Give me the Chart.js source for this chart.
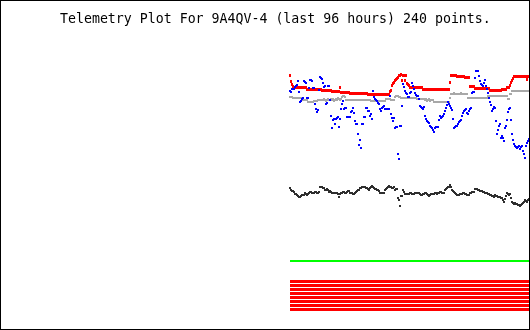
<!DOCTYPE html>
<html lang="en">
<head>
  <meta charset="UTF-8">
  <title>Telemetry Plot For 9A4QV-4</title>
  <script src="https://cdn.jsdelivr.net/npm/chart.js"></script>
  <style>
    body {
      margin: 0;
      background: #fff;
    }
    .plot {
      position: relative;
      width: 528px;
      height: 328px;
      border: 1px solid #000;
    }
    .plot canvas {
      display: block;
    }
    .title {
      position: absolute;
      left: 59px;
      top: 11px;
      font-family: 'DejaVu Sans Mono', 'Liberation Mono', monospace;
      font-size: 13.25px;
      line-height: 1;
      color: #000;
      white-space: pre;
    }
  </style>
</head>
<body>
  <div class="plot">
    <canvas id="telemetry" width="528" height="328"></canvas>
    <div class="title">Telemetry Plot For 9A4QV-4 (last 96 hours) 240 points.</div>
  </div>
  <script>
    // raw channel values, one per sample (240 samples, oldest first)
    const ch1 = [
      254,248,245,243,242,242,242,242,242,242,
      242,242,242,242,242,242,242,240,240,240,
      240,240,240,240,240,240,240,240,240,240,
      240,240,239,239,239,239,239,239,239,239,
      239,239,238,238,238,238,238,238,238,238,
      242,237,237,237,237,237,237,237,237,237,
      236,236,236,236,236,236,236,236,236,236,
      236,236,236,236,236,236,236,236,235,235,
      235,235,235,235,235,235,235,235,235,235,
      235,235,235,235,235,235,235,235,235,235,
      238,239,244,246,247,249,250,251,252,254,
      254,255,249,254,254,249,254,246,245,244,
      242,242,242,242,242,242,242,242,242,242,
      242,242,242,240,240,240,240,240,240,240,
      240,240,240,240,240,240,240,240,240,240,
      240,240,240,240,240,240,240,240,240,240,
      247,254,254,254,254,254,254,253,253,253,
      253,253,253,253,253,252,252,252,252,252,
      243,243,243,243,243,241,241,241,241,241,
      241,241,241,241,241,241,241,241,241,241,
      239,239,239,239,239,239,239,239,239,239,
      239,239,240,240,240,240,240,242,242,242,
      244,247,249,251,253,253,253,253,253,253,
      253,253,253,253,253,253,253,250,253,253
    ];
    const ch2 = [
      238,237,240,240,240,242,243,244,248,237,
      227,228,230,231,248,247,246,231,231,241,
      249,249,248,241,241,225,220,217,219,239,
      252,251,250,246,242,243,225,226,243,243,
      229,213,201,209,210,205,210,211,212,202,
      210,220,225,228,220,221,221,212,212,212,
      212,217,218,221,216,208,205,205,195,184,
      189,181,205,205,212,212,221,221,218,218,
      213,215,210,238,232,230,229,228,226,225,
      220,218,221,222,223,220,220,220,220,220,
      233,215,211,208,211,201,202,202,175,170,
      203,203,223,245,242,238,236,235,232,232,
      236,237,246,243,240,236,234,233,233,230,
      223,222,221,220,222,213,210,208,207,206,
      203,202,201,199,197,201,202,202,202,209,
      213,211,212,213,215,218,221,224,227,225,
      223,221,219,210,201,202,203,203,205,207,
      208,209,213,216,218,219,220,216,215,218,
      220,221,236,237,237,251,258,258,258,253,
      248,245,244,243,246,249,243,240,236,231,
      227,224,218,220,222,221,208,195,199,203,
      205,191,193,191,188,201,203,209,217,220,
      221,209,195,189,185,183,182,181,182,183,
      180,182,183,178,175,171,183,186,188,190
    ];
    const ch3 = [
      232,232,232,231,231,231,231,231,231,231,
      231,231,231,229,229,229,229,229,227,227,
      227,227,227,227,228,228,228,228,229,229,
      229,229,229,229,230,229,228,229,230,229,
      229,230,229,230,228,229,230,229,231,230,
      229,230,232,233,233,232,229,229,229,229,
      229,229,229,229,229,229,229,229,229,229,
      229,229,229,229,229,229,229,229,229,229,
      229,228,228,228,228,228,228,228,228,228,
      228,228,228,228,228,228,230,230,230,230,
      230,229,229,229,229,232,233,233,233,232,
      232,231,231,231,231,231,231,231,231,231,
      231,231,231,231,231,231,231,230,230,230,
      230,230,230,230,230,229,230,228,229,230,
      228,229,229,229,227,227,227,227,227,227,
      227,227,227,227,227,227,227,227,227,227,
      231,235,235,235,236,235,235,235,235,235,
      235,236,235,235,235,235,235,235,231,231,
      231,231,231,231,231,231,231,231,231,231,
      231,231,231,231,231,231,231,231,233,233,
      233,233,233,233,233,233,233,233,233,233,
      233,233,233,233,233,233,233,233,230,230,
      235,235,238,238,238,238,238,238,238,238,
      238,238,238,238,238,238,238,238,238,238
    ];
    const ch4 = [
      141,139,138,138,137,135,135,134,133,132,
      132,133,134,134,134,136,135,134,135,136,
      137,137,136,136,136,137,137,136,136,137,
      142,142,142,141,141,139,139,140,139,137,
      138,137,136,136,136,136,136,136,135,132,
      135,136,136,137,137,136,136,137,138,138,
      136,136,136,135,135,136,137,138,139,139,
      141,141,142,142,142,142,141,141,140,139,
      141,142,143,142,141,140,140,139,139,138,
      136,136,136,136,136,139,140,141,142,143,
      142,142,141,141,142,139,140,140,131,129,
      123,133,133,139,137,135,135,135,135,135,
      136,136,135,135,135,136,136,136,136,136,
      135,134,134,135,135,136,136,135,134,133,
      134,135,135,135,135,136,136,135,136,136,
      137,137,136,136,136,139,140,141,142,142,
      144,142,139,138,137,136,135,134,134,134,
      135,135,135,136,136,135,135,134,134,134,
      136,136,137,137,137,140,140,140,139,139,
      138,138,138,137,137,136,136,136,135,135,
      134,134,133,133,132,134,133,133,132,132,
      132,131,131,129,127,130,133,136,135,134,
      135,131,127,126,125,126,125,125,124,124,
      123,124,125,126,127,129,128,127,129,130
    ];
    const ch5 = 68;
    const bits = [47.5, 43.5, 39.5, 35.5, 31.5, 27.5, 23.5, 19.5];

    const firstSample = 0;
    const lastSample = ch1.length - 1;
    const samples = ch1.map((_, i) => i);

    // little square markers like the old gd plot
    function dot(color, w, h, top) {
      const c = document.createElement('canvas');
      c.width = w;
      c.height = h + top;
      const g = c.getContext('2d');
      g.fillStyle = color;
      g.fillRect(0, top, w, h);
      return c;
    }

    function points(values, label, marker) {
      return {
        label: label,
        data: values.map((v, i) => ({ x: samples[i], y: v })),
        showLine: false,
        pointStyle: marker,
        pointRadius: 1,
        pointHoverRadius: 1,
        pointBorderWidth: 0
      };
    }

    function flat(value, label, color, width) {
      return {
        label: label,
        type: 'line',
        data: [{ x: firstSample, y: value }, { x: lastSample, y: value }],
        borderColor: color,
        borderWidth: width,
        pointRadius: 0,
        pointHoverRadius: 0,
        fill: false
      };
    }

    const datasets = [
      points(ch2, 'ch2', dot('#0000ff', 2, 2, 0)),
      points(ch1, 'ch1', dot('#ff0000', 2, 3, 1)),
      points(ch3, 'ch3', dot('#a8a8a8', 2, 2, 0)),
      points(ch4, 'ch4', dot('#2e2e2e', 2, 2, 0)),
      flat(ch5, 'ch5', '#00ff00', 2)
    ];
    bits.forEach((b, k) => datasets.push(flat(b, 'bit' + (k + 1), '#ff0000', 3)));

    new Chart(document.getElementById('telemetry'), {
      type: 'scatter',
      data: { datasets: datasets },
      options: {
        responsive: false,
        animation: false,
        events: [],
        layout: { padding: 0, autoPadding: false },
        plugins: {
          legend: { display: false },
          tooltip: { enabled: false },
          title: { display: false }
        },
        scales: {
          x: { type: 'linear', min: -289, max: 239, display: false },
          y: { type: 'linear', min: 0, max: 328, display: false }
        }
      }
    });
  </script>
</body>
</html>
